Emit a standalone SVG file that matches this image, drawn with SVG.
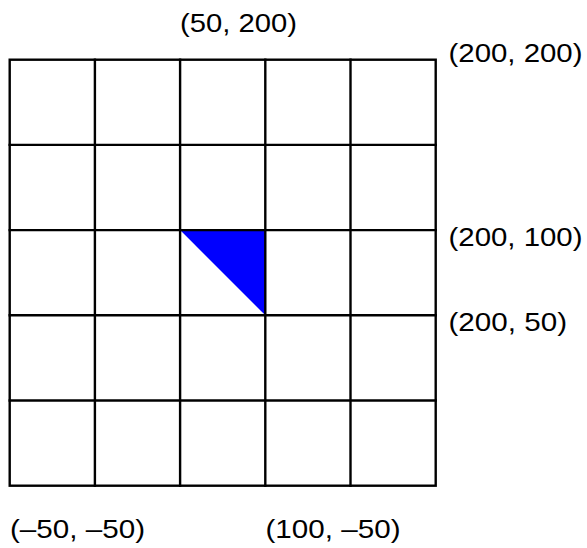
<svg xmlns="http://www.w3.org/2000/svg" width="587" height="548" viewBox="0 0 587 548">
<style>
.lbl{font-family:"Liberation Sans",Arial,sans-serif;font-size:26px;fill:#000}
.g{stroke:#000;stroke-width:2.4;fill:none;stroke-linecap:square}
</style>
<rect width="587" height="548" fill="#fff"/>
<g id="triangle"><polygon points="180.1,230.1 265.3,230.1 265.3,315.3" fill="#0000ff"/></g>
<g id="grid" class="g">
<rect x="9.7" y="59.7" width="426" height="426"/>
<line x1="94.9" y1="59.7" x2="94.9" y2="485.7"/>
<line x1="180.1" y1="59.7" x2="180.1" y2="485.7"/>
<line x1="265.3" y1="59.7" x2="265.3" y2="485.7"/>
<line x1="350.5" y1="59.7" x2="350.5" y2="485.7"/>
<line x1="9.7" y1="144.9" x2="435.7" y2="144.9"/>
<line x1="9.7" y1="230.1" x2="435.7" y2="230.1"/>
<line x1="9.7" y1="315.3" x2="435.7" y2="315.3"/>
<line x1="9.7" y1="400.5" x2="435.7" y2="400.5"/>
</g>
<g id="labels">
<text class="lbl" x="180" y="31.7" textLength="117" lengthAdjust="spacingAndGlyphs">(50, 200)</text>
<text class="lbl" x="448.5" y="62" textLength="134" lengthAdjust="spacingAndGlyphs">(200, 200)</text>
<text class="lbl" x="448.5" y="246" textLength="134" lengthAdjust="spacingAndGlyphs">(200, 100)</text>
<text class="lbl" x="448.5" y="331" textLength="118.5" lengthAdjust="spacingAndGlyphs">(200, 50)</text>
<text class="lbl" x="10" y="538" textLength="135" lengthAdjust="spacingAndGlyphs">(–50, –50)</text>
<text class="lbl" x="265.5" y="538" textLength="135" lengthAdjust="spacingAndGlyphs">(100, –50)</text>
</g>
</svg>
